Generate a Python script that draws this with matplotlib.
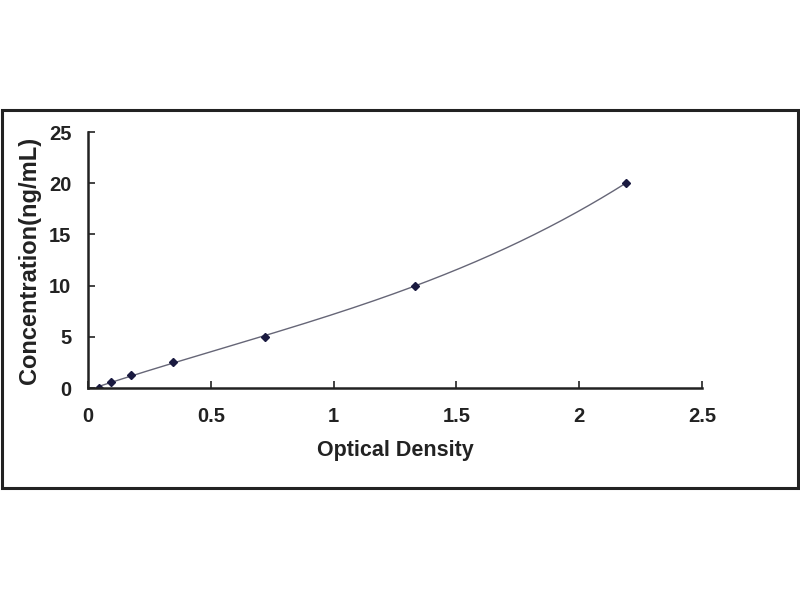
import numpy as np
import matplotlib
matplotlib.use("Agg")
import matplotlib.pyplot as plt
from matplotlib.patches import Rectangle

od = [0.045, 0.092, 0.175, 0.347, 0.72, 1.33, 2.19]
conc = [0.0, 0.625, 1.25, 2.5, 5.0, 10.0, 20.0]
xticks = [0, 0.5, 1, 1.5, 2, 2.5]
xticklabels = ["0", "0.5", "1", "1.5", "2", "2.5"]
yticks = [0, 5, 10, 15, 20, 25]
yticklabels = ["0", "5", "10", "15", "20", "25"]

plt.rcParams['font.family'] = ['Liberation Sans', 'DejaVu Sans']

fig = plt.figure(figsize=(8, 6), dpi=100)
fig.patch.set_facecolor('white')
fig.patches.append(Rectangle((2/800, 1-488/600), 796/800, (488-110)/600,
                             transform=fig.transFigure, fill=False,
                             edgecolor='#222222', linewidth=2.2))

ax = fig.add_axes([88/800, 1-388/600, (702-88)/800, (388-132)/600])
coef = np.polyfit(od, conc, 3)
xs = np.linspace(min(od), max(od), 300)
ax.plot(xs, np.polyval(coef, xs), color='#666677', linewidth=1.0)
ax.plot(od, conc, linestyle='none', marker='D', markersize=4,
        color='#1a1a40')

ax.set_xlim(0, 2.5)
ax.set_ylim(0, 25)
ax.set_xticks(xticks)
ax.set_xticklabels(xticklabels)
ax.set_yticks(yticks)
ax.set_yticklabels(yticklabels)
for s in ['top', 'right']:
    ax.spines[s].set_visible(False)
for s in ['left', 'bottom']:
    ax.spines[s].set_linewidth(1.8)
    ax.spines[s].set_color('#222222')
ax.tick_params(direction='in', length=5, width=1.2, color='#222222',
               labelsize=14.5)
ax.tick_params(axis='x', pad=14)
ax.tick_params(axis='y', pad=12)
for lab in ax.get_xticklabels() + ax.get_yticklabels():
    lab.set_fontweight('bold')
    lab.set_color('#222222')
ax.set_xlabel('Optical Density', fontsize=15.5, fontweight='bold',
              color='#222222', labelpad=10)
ax.set_ylabel('Concentration(ng/mL)', fontsize=17, fontweight='bold',
              color='#222222', labelpad=6)

fig.savefig('out.png', dpi=100, facecolor='white')
